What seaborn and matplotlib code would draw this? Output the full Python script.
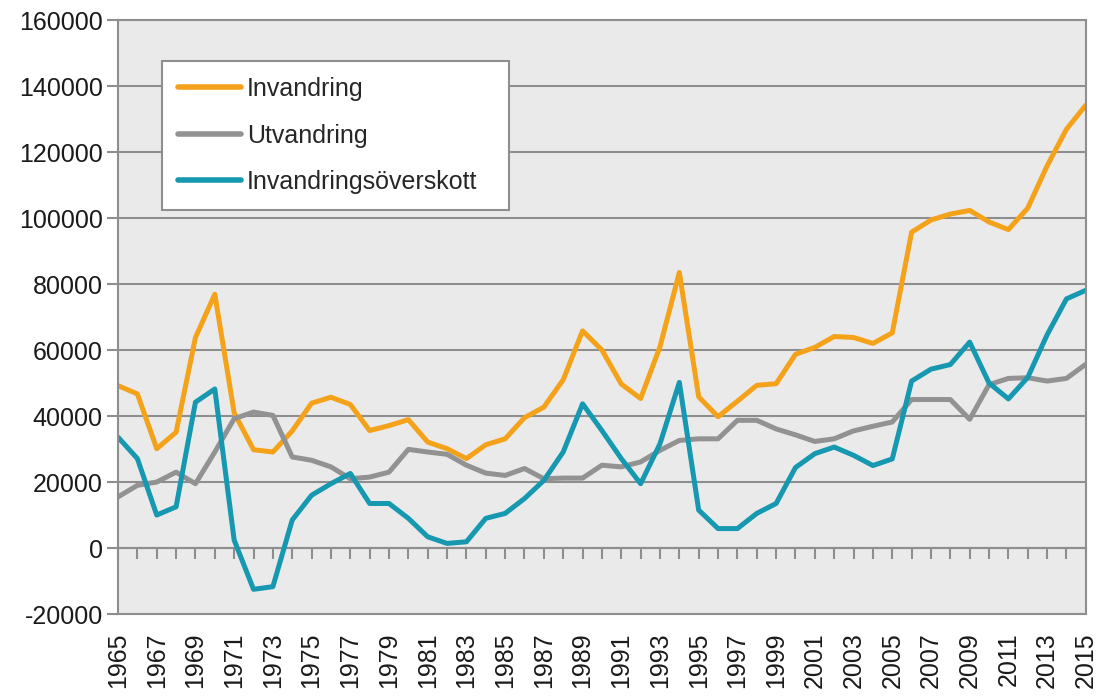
import pandas as pd
import numpy as np
import seaborn as sns
import matplotlib.pyplot as plt

years = list(range(1965, 2016))

# Invandring (immigration)
invandring = [49200, 46700, 30100, 35100, 63800, 76900, 41000, 29800, 29100, 35500,
              43900, 45700, 43500, 35600, 37100, 38900, 32100, 30100, 27100, 31300,
              33100, 39500, 42700, 51000, 65800, 60000, 49700, 45300, 61000, 83500,
              45800, 39800, 44500, 49300, 49800, 58700, 60800, 64100, 63800, 62000,
              65200, 95700, 99400, 101200, 102300, 98800, 96500, 103000, 115800, 126900,
              134200]

# Utvandring (emigration)
utvandring = [15500, 19000, 20000, 23000, 19500, 29100, 39200, 41200, 40200, 27600,
              26600, 24600, 21000, 21500, 23000, 29900, 29100, 28400, 25100, 22700,
              22000, 24100, 21000, 21200, 21200, 25100, 24600, 26100, 29600, 32600,
              33100, 33100, 38700, 38700, 36100, 34300, 32300, 33100, 35500, 36900,
              38200, 45000, 45000, 45000, 39000, 49500, 51400, 51600, 50600, 51400,
              55700]

# Invandringsöverskott (net immigration)
overskott = [33600, 27100, 10000, 12500, 44200, 48200, 2400, -12500, -11700, 8500,
             16000, 19500, 22600, 13500, 13500, 9000, 3400, 1400, 1900, 9000,
             10500, 15000, 20500, 29100, 43700, 35600, 27100, 19500, 31600, 50200,
             11500, 5900, 5900, 10500, 13500, 24400, 28600, 30600, 28100, 25000,
             27000, 50600, 54200, 55600, 62400, 50000, 45200, 51700, 64600, 75500,
             78100]

series_names = ["Invandring", "Utvandring", "Invandringsöverskott"]
colors = ["#F5A21B", "#929292", "#1698B0"]

df = pd.DataFrame({"year": years, series_names[0]: invandring,
                   series_names[1]: utvandring, series_names[2]: overskott})
long_df = df.melt(id_vars="year", var_name="serie", value_name="antal")

sns.set_style("white", {"axes.facecolor": "#EAEAEA"})
plt.rcParams["font.family"] = ["Liberation Sans", "DejaVu Sans"]
plt.rcParams["axes.unicode_minus"] = False

fig, ax = plt.subplots(figsize=(10.99, 6.97), dpi=100)
fig.subplots_adjust(left=0.1074, right=0.988, top=0.9713, bottom=0.119)

sns.lineplot(data=long_df, x="year", y="antal", hue="serie", hue_order=series_names,
             palette=colors, linewidth=3.6, ax=ax, legend=True)

ax.set_xlim(1965, 2015)
ax.set_ylim(-20000, 160000)
ax.set_yticks(np.arange(-20000, 160001, 20000))
ax.yaxis.grid(True, color="#8E8E8E", linewidth=1.5)
ax.set_axisbelow(True)
ax.set_xlabel("")
ax.set_ylabel("")

for s in ax.spines.values():
    s.set_color("#8E8E8E")
    s.set_linewidth(1.5)

ax.tick_params(axis="y", direction="out", length=8, width=1.5, color="#8E8E8E",
               labelsize=18, labelcolor="#1a1a1a", pad=3, left=True)
ax.set_xticks(years[::2])
ax.set_xticklabels([str(y) for y in years[::2]], rotation=90)
ax.tick_params(axis="x", length=0, labelsize=18, labelcolor="#1a1a1a", pad=13)

# category axis crosses at 0 with a tick mark per year
sec = ax.secondary_xaxis(20000 / 180000)
sec.set_xticks(years, labels=[""] * len(years))
sec.tick_params(axis="x", direction="out", length=8, width=1.5, color="#8E8E8E")
sec.spines["bottom"].set_color("#8E8E8E")
sec.spines["bottom"].set_linewidth(1.5)

leg = ax.legend(loc="upper left", bbox_to_anchor=(0.0455, 0.931, 0.358, 0.0),
                mode="expand", borderaxespad=0,
                fontsize=18, frameon=True, fancybox=False, edgecolor="#8E8E8E",
                facecolor="white", framealpha=1, handlelength=2.5, handletextpad=0.25,
                labelspacing=0.9, borderpad=0.65)
leg.get_frame().set_linewidth(1.5)
for line in leg.get_lines():
    line.set_linewidth(4)

plt.savefig("out.png", dpi=100)
